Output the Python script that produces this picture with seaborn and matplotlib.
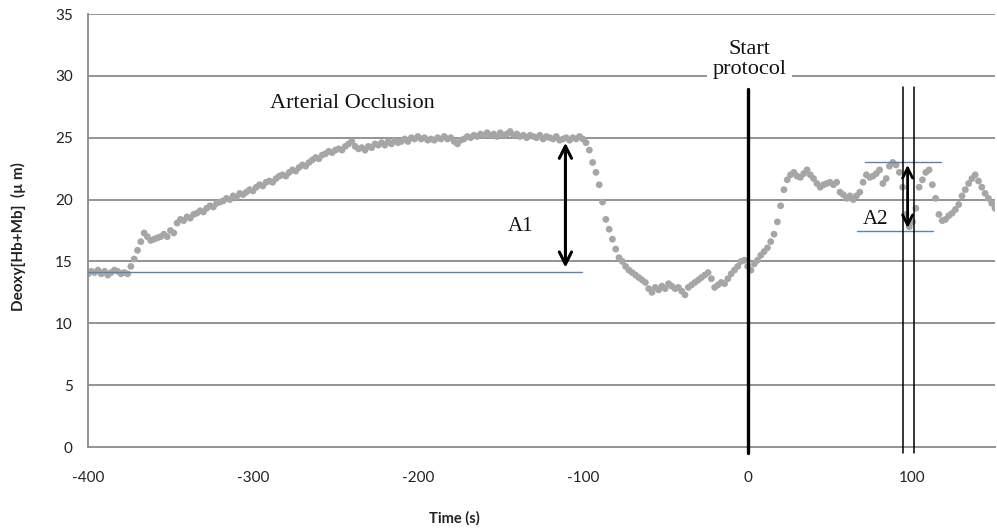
import numpy as np
import pandas as pd
import matplotlib
matplotlib.use("Agg")
import matplotlib.pyplot as plt
import seaborn as sns

# Deoxy[Hb+Mb] trace, one reading every 2 s from -400 s to 150 s
deoxy = [
    14.0, 14.2, 14.1, 14.3, 14.0, 14.2, 13.9, 14.1, 14.3, 14.2,   # -400
    14.0, 14.1, 14.0, 14.6, 15.2, 15.9, 16.6, 17.3, 17.0, 16.7,   # -380
    16.8, 16.9, 17.0, 17.2, 17.0, 17.5, 17.3, 18.1, 18.4, 18.3,   # -360
    18.6, 18.5, 18.8, 18.9, 19.1, 19.0, 19.3, 19.5, 19.4, 19.7,   # -340
    19.8, 19.9, 20.1, 20.0, 20.3, 20.2, 20.5, 20.4, 20.6, 20.8,   # -320
    20.7, 21.0, 21.2, 21.1, 21.4, 21.5, 21.4, 21.7, 21.9, 22.0,   # -300
    21.9, 22.2, 22.4, 22.3, 22.6, 22.8, 22.7, 23.0, 23.2, 23.4,   # -280
    23.3, 23.6, 23.7, 23.9, 23.8, 24.0, 24.1, 24.0, 24.3, 24.5,   # -260
    24.7, 24.3, 24.1, 24.2, 24.0, 24.3, 24.2, 24.5, 24.4, 24.6,   # -240
    24.4, 24.7, 24.5, 24.8, 24.6, 24.7, 24.9, 24.7, 25.0, 24.9,   # -220
    25.1, 24.9, 25.0, 24.8, 24.9, 24.8, 25.0, 24.9, 25.1, 24.9,   # -200
    25.0, 24.7, 24.5, 24.8, 24.9, 25.1, 25.0, 25.2, 25.1, 25.3,   # -180
    25.2, 25.4, 25.2, 25.3, 25.1, 25.4, 25.2, 25.3, 25.5, 25.2,   # -160
    25.3, 25.1, 25.2, 25.0, 25.2, 25.1, 25.0, 25.2, 24.9, 25.1,   # -140
    25.0, 24.9, 25.1, 24.8, 24.9, 25.0, 24.8, 25.0, 24.9, 25.1,   # -120
    24.9, 24.6, 24.0, 23.0, 22.2, 21.2, 19.8, 18.4, 17.6, 16.8,   # -100
    16.0, 15.3, 15.0, 14.6, 14.3, 14.1, 13.9, 13.7, 13.5, 13.3,   # -80
    12.8, 12.5, 12.9, 12.7, 13.0, 12.8, 13.2, 13.0, 12.8, 12.9,   # -60
    12.6, 12.3, 12.9, 13.1, 13.3, 13.5, 13.7, 13.9, 14.1, 13.6,   # -40
    12.9, 13.1, 13.3, 13.2, 13.6, 14.0, 14.3, 14.6, 15.0, 15.1,   # -20
    14.6, 14.3, 14.8, 15.1, 15.5, 15.8, 16.1, 16.6, 17.2, 18.2,   # 0
    19.5, 20.8, 21.6, 22.0, 22.2, 21.9, 21.8, 22.1, 22.4, 22.0,   # 20
    21.7, 21.3, 21.0, 21.2, 21.3, 21.4, 21.2, 21.4, 20.6, 20.4,   # 40
    20.1, 20.3, 20.0, 20.3, 20.6, 21.4, 22.0, 21.8, 21.9, 22.1,   # 60
    22.4, 21.3, 21.7, 22.7, 23.0, 22.8, 22.2, 21.0, 18.8, 17.8,   # 80
    18.2, 19.3, 21.0, 21.6, 22.2, 22.4, 21.2, 20.1, 18.8, 18.3,   # 100
    18.4, 18.7, 18.9, 19.2, 19.6, 20.3, 20.8, 21.3, 21.7, 22.0,   # 120
    21.5, 21.0, 20.5, 20.1, 19.7, 19.3,                           # 140
]
time_s = np.arange(-400, 151, 2)

x_ticks = [-400, -300, -200, -100, 0, 100]
y_ticks = [0, 5, 10, 15, 20, 25, 30, 35]

# annotation values
start_time = 0
window_times = [94, 101]
a1_x, a1_low, a1_high = -110.5, 14.5, 24.6
a1_base = 14.15
a2_x, a2_low, a2_high = 97, 17.7, 22.8
a2_top, a2_bottom = 23.0, 17.5

df = pd.DataFrame({"time": time_s, "deoxy": deoxy})

sns.set_style("white")
plt.rcParams["font.family"] = ["Lato", "DejaVu Sans"]

grid_col = "#8a8a8a"
blue = "#5b84ad"
serif = "Liberation Serif"

fig = plt.figure(figsize=(9.97, 5.29), dpi=100)
ax = fig.add_axes([0.0883, 0.155, 0.9097, 0.8185])

for yv in y_ticks[1:]:
    ax.axhline(yv, color=grid_col, lw=1.3, zorder=0)

sns.scatterplot(data=df, x="time", y="deoxy", ax=ax, color="#a6a6a6",
                s=24, edgecolor="none", linewidth=0, zorder=2)

# baselines for A1 / A2
ax.plot([-400, -100.5], [a1_base, a1_base], color=blue, lw=1, zorder=3)
ax.plot([71, 117], [a2_top, a2_top], color=blue, lw=1, zorder=3)
ax.plot([66.5, 112.6], [a2_bottom, a2_bottom], color=blue, lw=1, zorder=3)

# protocol markers
ax.plot([start_time, start_time], [-0.5, 28.9], color="black", lw=2.4,
        clip_on=False, zorder=4)
for t in window_times:
    ax.plot([t, t], [-0.5, 29.1], color="black", lw=1.1, clip_on=False, zorder=4)

ax.annotate("", xy=(a1_x, a1_high), xytext=(a1_x, a1_low),
            arrowprops=dict(arrowstyle="<->", lw=2.2, color="black",
                            mutation_scale=22, shrinkA=0, shrinkB=0), zorder=5)
ax.annotate("", xy=(a2_x, a2_high), xytext=(a2_x, a2_low),
            arrowprops=dict(arrowstyle="<->", lw=2.0, color="black",
                            mutation_scale=18, shrinkA=0, shrinkB=0), zorder=5)

ax.text(-239.8, 27.8, "Arterial Occlusion", family=serif, fontsize=16,
        ha="center", va="center", color="#111111")
ax.text(start_time + 1, 31.3, "Start\nprotocol", family=serif, fontsize=16,
        ha="center", va="center", linespacing=1.1, color="#111111",
        bbox=dict(facecolor="white", edgecolor="none", pad=4), zorder=6)
ax.text(-138, 17.8, "A1", family=serif, fontsize=15, ha="center", va="center",
        color="#111111")
ax.text(77.5, 18.4, "A2", family=serif, fontsize=15, ha="center", va="center",
        color="#111111")

ax.set_xlim(-400, 150)
ax.set_ylim(0, 35)
ax.set_xticks(x_ticks)
ax.set_yticks(y_ticks)
ax.set_xticklabels([str(v) for v in x_ticks])
ax.set_yticklabels([str(v) for v in y_ticks])

for side in ["top", "right"]:
    ax.spines[side].set_visible(False)
for side in ["left", "bottom"]:
    ax.spines[side].set_color(grid_col)
    ax.spines[side].set_linewidth(1.3)

ax.tick_params(axis="y", direction="out", length=6, width=1.3, color=grid_col,
               labelsize=11, pad=5, labelcolor="#222222")
ax.tick_params(axis="x", direction="out", length=5, width=1.3, color=grid_col,
               labelsize=11, pad=12, labelcolor="#222222")

ax.set_xlabel("Time (s)", fontsize=10.5, fontweight="bold", color="#222222")
ax.set_ylabel("Deoxy[Hb+Mb]  (µ m)", fontsize=11, fontweight="bold", color="#222222")
ax.xaxis.set_label_coords(0.4035, -0.164)
ax.xaxis.label.set_va("center")
ax.yaxis.set_label_coords(-0.077, 0.485)
ax.yaxis.label.set_va("center")

fig.savefig("out.png", dpi=100)
